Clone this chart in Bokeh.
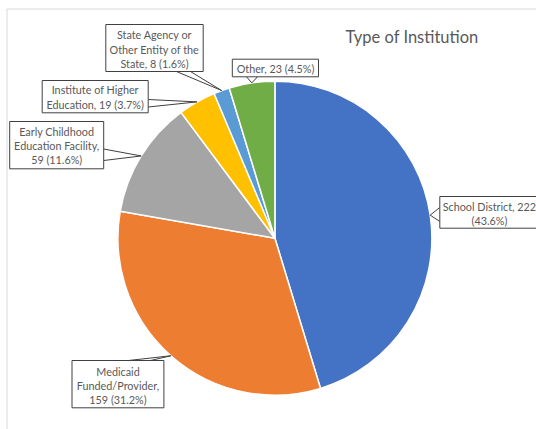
import math
from bokeh.plotting import figure
from bokeh.models import Range1d
from bokeh.core.properties import value
from bokeh.embed import file_html
from bokeh.resources import INLINE

# ---- data ----
title = "Type of Institution"
categories = ["School District", "Medicaid Funded/Provider",
              "Early Childhood Education Facility", "Institute of Higher Education",
              "State Agency or Other Entity of the State", "Other"]
counts = [222, 159, 59, 19, 8, 23]
percents = ["43.6", "31.2", "11.6", "3.7", "1.6", "4.5"]
colors = ["#4472C4", "#ED7D31", "#A5A5A5", "#FFC000", "#5B9BD5", "#70AD47"]

# label text (same words, wrapped as in the reference)
label_lines = [
    [f"School District, {counts[0]}", f"({percents[0]}%)"],
    ["Medicaid", "Funded/Provider,", f"{counts[1]} ({percents[1]}%)"],
    ["Early Childhood", "Education Facility,", f"{counts[2]} ({percents[2]}%)"],
    ["Institute of Higher", f"Education, {counts[3]} ({percents[3]}%)"],
    ["State Agency or", "Other Entity of the", f"State, {counts[4]} ({percents[4]}%)"],
    [f"Other, {counts[5]} ({percents[5]}%)"],
]

# ---- layout (page pixel coordinates) ----
W, H = 536, 429
def X(px): return px
def Y(py): return H - py

CX, CY, R = X(274.4), Y(237.7), 157

# box: (left, right, top, bottom), text center x, line y's, leader base points
layout = [
    dict(box=(439.3, 560, 196, 227.7), tx=488.9, ly=[205.5, 219.5], base=[(439.3, 207), (439.3, 221)]),
    dict(box=(71.5, 163.4, 360, 407.3), tx=117.5, ly=[370.7, 385, 399], base=[(128, 360), (150, 360)]),
    dict(box=(9.2, 103.2, 121, 168.3), tx=56.2, ly=[131, 145.3, 159.3], base=[(103.2, 148.5), (103.2, 160)]),
    dict(box=(41.7, 147.7, 80, 112.3), tx=94.7, ly=[89.3, 104], base=[(147.7, 99), (147.7, 106.5)]),
    dict(box=(105.3, 202.7, 24, 71), tx=154, ly=[34.3, 48.7, 62.7], base=[(176, 71), (190, 71)]),
    dict(box=(231.8, 318, 58.7, 76.3), tx=275, ly=[67.7], base=[(246, 76.3), (257, 76.3)]),
]

FONT = value("Lato")
TXT = "#595959"

p = figure(width=W, height=H, x_range=Range1d(0, W), y_range=Range1d(0, H),
           output_backend="svg", toolbar_location=None, min_border=0,
           x_axis_location=None, y_axis_location=None)
p.outline_line_color = None
p.background_fill_color = "white"
p.border_fill_color = "white"
try:
    p.grid.visible = False
except Exception:
    pass

# chart border (left/top visible)
p.line([X(6.5), X(6.5)], [0, Y(8.5)], line_color="#d9d9d9", line_width=1)
p.line([X(6.5), W], [Y(8.5), Y(8.5)], line_color="#d9d9d9", line_width=1)

# pie wedges
total = sum(counts)
cum = 0
mids = []
for c, col in zip(counts, colors):
    f0 = cum / total
    f1 = (cum + c) / total
    cum += c
    mids.append((f0 + f1) / 2)
    p.wedge(x=CX, y=CY, radius=R,
            start_angle=math.pi / 2 - 2 * math.pi * f0,
            end_angle=math.pi / 2 - 2 * math.pi * f1,
            direction="clock", fill_color=col, line_color="white", line_width=1.5)

# leaders, boxes, texts
for lines, lay, m in zip(label_lines, layout, mids):
    th = 2 * math.pi * m
    tx, ty = CX + R * math.sin(th), CY + R * math.cos(th)
    for bx, by in lay["base"]:
        p.line([X(bx), tx], [Y(by), ty], line_color="#404040", line_width=1)
    l, r, t, b = lay["box"]
    p.quad(left=X(l), right=X(r), top=Y(t), bottom=Y(b),
           fill_color="white", line_color="#404040", line_width=1)
    for s, yy in zip(lines, lay["ly"]):
        p.text(x=[X(lay["tx"])], y=[Y(yy)], text=[s], text_align="center",
               text_baseline="middle", text_font=FONT, text_font_size="10.8px",
               text_color=TXT)

p.text(x=[X(345)], y=[Y(36)], text=[title], text_align="left", text_baseline="middle",
       text_font=FONT, text_font_size="16.5px", text_color=TXT)

open("out.html", "w").write(file_html(p, INLINE))
